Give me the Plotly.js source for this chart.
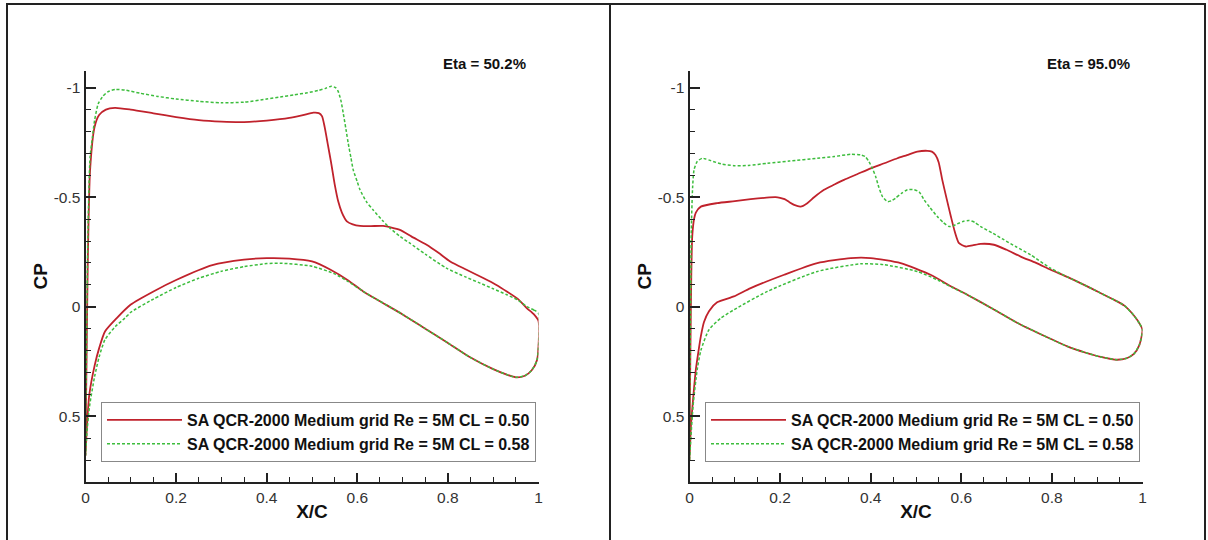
<!DOCTYPE html>
<html>
<head>
<meta charset="utf-8">
<script src="https://cdn.plot.ly/plotly-3.0.1.min.js"></script>
<style>html,body{margin:0;padding:0;background:#fff;}#chart{width:1208px;height:540px;}</style>
</head>
<body>
<div id="chart"></div>
<script>
// ---------- labels ----------
const panelLabels = ['Eta = 50.2%', 'Eta = 95.0%'];
const seriesNames = ['SA QCR-2000 Medium grid Re = 5M CL = 0.50', 'SA QCR-2000 Medium grid Re = 5M CL = 0.58'];
const xTickVals = [0, 0.2, 0.4, 0.6, 0.8, 1];
const xTickText = ['0', '0.2', '0.4', '0.6', '0.8', '1'];
const yTickVals = [-1, -0.5, 0, 0.5];
const yTickText = ['-1', '-0.5', '0', '0.5'];

// ---------- Eta = 50.2%, CL = 0.50 ----------
const eta50_cl050_upper_x  = [0, 0.002, 0.005, 0.01, 0.02, 0.03, 0.045, 0.065, 0.1, 0.15, 0.2, 0.25, 0.3, 0.35, 0.4, 0.45, 0.48, 0.503, 0.515, 0.522, 0.528, 0.535, 0.542, 0.55, 0.558, 0.566, 0.577, 0.59, 0.606, 0.63, 0.657, 0.694, 0.72, 0.753, 0.78, 0.805, 0.84, 0.878, 0.905, 0.93, 0.955, 0.974, 0.99, 1.0];
const eta50_cl050_upper_cp = [0.68, 0.3, -0.2, -0.62, -0.82, -0.875, -0.9, -0.908, -0.9, -0.883, -0.866, -0.852, -0.845, -0.843, -0.85, -0.862, -0.875, -0.886, -0.884, -0.87, -0.82, -0.74, -0.66, -0.56, -0.48, -0.43, -0.39, -0.376, -0.369, -0.368, -0.369, -0.351, -0.32, -0.283, -0.245, -0.207, -0.17, -0.131, -0.102, -0.07, -0.035, 0.006, 0.035, 0.065];
const eta50_cl050_lower_x  = [0, 0.003, 0.0085, 0.02, 0.03, 0.043, 0.069, 0.1, 0.15, 0.2, 0.28, 0.35, 0.4, 0.45, 0.5, 0.54, 0.58, 0.613, 0.65, 0.7, 0.75, 0.8, 0.85, 0.9, 0.93, 0.95, 0.97, 0.985, 0.997, 1.0];
const eta50_cl050_lower_cp = [0.68, 0.55, 0.4, 0.27, 0.19, 0.113, 0.052, -0.01, -0.07, -0.122, -0.19, -0.215, -0.222, -0.22, -0.207, -0.17, -0.12, -0.07, -0.025, 0.035, 0.1, 0.165, 0.232, 0.285, 0.31, 0.322, 0.315, 0.29, 0.242, 0.065];

// ---------- Eta = 50.2%, CL = 0.58 ----------
const eta50_cl058_upper_x  = [0, 0.002, 0.005, 0.01, 0.015, 0.02, 0.028, 0.038, 0.049, 0.066, 0.09, 0.12, 0.16, 0.2, 0.25, 0.3, 0.35, 0.4, 0.43, 0.46, 0.49, 0.515, 0.53, 0.543, 0.552, 0.558, 0.564, 0.569, 0.575, 0.58, 0.586, 0.591, 0.6, 0.606, 0.62, 0.635, 0.655, 0.672, 0.695, 0.716, 0.75, 0.797, 0.84, 0.871, 0.9, 0.93, 0.955, 0.974, 0.99, 1.0];
const eta50_cl058_upper_cp = [0.68, 0.25, -0.3, -0.68, -0.77, -0.85, -0.926, -0.96, -0.981, -0.992, -0.988, -0.975, -0.96, -0.948, -0.938, -0.931, -0.934, -0.948, -0.958, -0.967, -0.977, -0.988, -0.997, -1.007, -1.0, -0.982, -0.94, -0.883, -0.81, -0.746, -0.68, -0.625, -0.57, -0.534, -0.48, -0.442, -0.395, -0.359, -0.32, -0.29, -0.24, -0.176, -0.135, -0.108, -0.082, -0.055, -0.03, -0.001, 0.015, 0.03];
const eta50_cl058_lower_x  = [0, 0.003, 0.0085, 0.02, 0.03, 0.043, 0.066, 0.087, 0.1, 0.15, 0.2, 0.25, 0.3, 0.35, 0.4, 0.43, 0.5, 0.55, 0.58, 0.613, 0.65, 0.7, 0.75, 0.8, 0.85, 0.9, 0.93, 0.95, 0.97, 0.985, 0.997, 1.0];
const eta50_cl058_lower_cp = [0.68, 0.58, 0.46, 0.32, 0.23, 0.15, 0.09, 0.052, 0.025, -0.035, -0.088, -0.13, -0.162, -0.183, -0.197, -0.199, -0.185, -0.15, -0.115, -0.07, -0.025, 0.035, 0.1, 0.165, 0.232, 0.285, 0.31, 0.322, 0.315, 0.29, 0.242, 0.03];

// ---------- Eta = 95.0%, CL = 0.50 ----------
const eta95_cl050_upper_x  = [0, 0.002, 0.004, 0.006, 0.01, 0.014, 0.025, 0.061, 0.1, 0.135, 0.17, 0.19, 0.2, 0.21, 0.22, 0.231, 0.245, 0.26, 0.275, 0.297, 0.32, 0.341, 0.37, 0.4, 0.43, 0.459, 0.48, 0.503, 0.525, 0.535, 0.543, 0.55, 0.558, 0.568, 0.577, 0.586, 0.595, 0.61, 0.625, 0.643, 0.672, 0.7, 0.731, 0.765, 0.797, 0.835, 0.871, 0.905, 0.937, 0.96, 0.981, 0.993, 1.0];
const eta95_cl050_upper_cp = [0.7, 0.2, -0.15, -0.32, -0.4, -0.43, -0.457, -0.473, -0.482, -0.491, -0.498, -0.5, -0.497, -0.491, -0.478, -0.465, -0.457, -0.473, -0.5, -0.534, -0.558, -0.579, -0.605, -0.632, -0.655, -0.678, -0.692, -0.708, -0.712, -0.708, -0.693, -0.66, -0.579, -0.49, -0.412, -0.34, -0.29, -0.275, -0.28, -0.287, -0.283, -0.26, -0.229, -0.2, -0.169, -0.135, -0.1, -0.065, -0.032, -0.005, 0.04, 0.075, 0.105];
const eta95_cl050_lower_x  = [0, 0.003, 0.008, 0.014, 0.02, 0.025, 0.032, 0.043, 0.061, 0.098, 0.135, 0.209, 0.282, 0.356, 0.4, 0.466, 0.532, 0.58, 0.613, 0.67, 0.724, 0.78, 0.834, 0.875, 0.908, 0.944, 0.965, 0.981, 0.993, 1.0];
const eta95_cl050_lower_cp = [0.7, 0.55, 0.42, 0.287, 0.2, 0.135, 0.07, 0.02, -0.02, -0.047, -0.085, -0.146, -0.199, -0.222, -0.222, -0.199, -0.146, -0.09, -0.055, 0.01, 0.074, 0.13, 0.181, 0.21, 0.229, 0.242, 0.235, 0.215, 0.175, 0.105];

// ---------- Eta = 95.0%, CL = 0.58 ----------
const eta95_cl058_upper_x  = [0, 0.002, 0.004, 0.007, 0.01, 0.017, 0.028, 0.035, 0.047, 0.07, 0.098, 0.13, 0.172, 0.22, 0.282, 0.32, 0.356, 0.378, 0.388, 0.396, 0.404, 0.411, 0.418, 0.426, 0.437, 0.446, 0.455, 0.468, 0.481, 0.496, 0.507, 0.518, 0.53, 0.547, 0.56, 0.573, 0.582, 0.591, 0.605, 0.617, 0.63, 0.643, 0.67, 0.694, 0.72, 0.753, 0.797, 0.835, 0.871, 0.905, 0.937, 0.96, 0.981, 0.993, 1.0];
const eta95_cl058_upper_cp = [0.7, 0.1, -0.35, -0.55, -0.625, -0.663, -0.678, -0.675, -0.667, -0.652, -0.644, -0.645, -0.655, -0.665, -0.678, -0.686, -0.696, -0.693, -0.685, -0.663, -0.63, -0.594, -0.545, -0.503, -0.48, -0.484, -0.496, -0.518, -0.534, -0.534, -0.524, -0.488, -0.455, -0.412, -0.385, -0.366, -0.37, -0.378, -0.39, -0.394, -0.385, -0.366, -0.335, -0.306, -0.275, -0.237, -0.176, -0.135, -0.1, -0.065, -0.032, -0.005, 0.04, 0.075, 0.105];
const eta95_cl058_lower_x  = [0, 0.003, 0.008, 0.017, 0.025, 0.043, 0.069, 0.098, 0.172, 0.282, 0.378, 0.429, 0.503, 0.55, 0.58, 0.613, 0.67, 0.724, 0.78, 0.834, 0.875, 0.908, 0.944, 0.965, 0.981, 0.993, 1.0];
const eta95_cl058_lower_cp = [0.7, 0.6, 0.45, 0.287, 0.2, 0.105, 0.052, 0.014, -0.07, -0.161, -0.196, -0.192, -0.161, -0.12, -0.088, -0.055, 0.01, 0.074, 0.13, 0.181, 0.21, 0.229, 0.242, 0.235, 0.215, 0.175, 0.105];

// ---------- styles ----------
const redColor = '#c0222c';
const greenColor = '#3dbd3d';
const FONT = 'Liberation Sans, Arial, sans-serif';

function loop(ux, ucp, lx, lcp) {
  const x = ux.slice().reverse().concat(lx.slice(1));
  const y = ucp.slice().reverse().concat(lcp.slice(1));
  return {x: x, y: y};
}

const panels = [
  {xa: 'x', ya: 'y', lg: 'legend',
   red: loop(eta50_cl050_upper_x, eta50_cl050_upper_cp, eta50_cl050_lower_x, eta50_cl050_lower_cp),
   green: loop(eta50_cl058_upper_x, eta50_cl058_upper_cp, eta50_cl058_lower_x, eta50_cl058_lower_cp)},
  {xa: 'x2', ya: 'y2', lg: 'legend2',
   red: loop(eta95_cl050_upper_x, eta95_cl050_upper_cp, eta95_cl050_lower_x, eta95_cl050_lower_cp),
   green: loop(eta95_cl058_upper_x, eta95_cl058_upper_cp, eta95_cl058_lower_x, eta95_cl058_lower_cp)}
];

const traces = [];
panels.forEach(p => {
  traces.push({type: 'scatter', mode: 'lines', x: p.red.x, y: p.red.y, xaxis: p.xa, yaxis: p.ya, legend: p.lg,
    name: seriesNames[0], line: {color: redColor, width: 1.8, shape: 'spline', smoothing: 0.6}, hoverinfo: 'x+y'});
  traces.push({type: 'scatter', mode: 'lines', x: p.green.x, y: p.green.y, xaxis: p.xa, yaxis: p.ya, legend: p.lg,
    name: seriesNames[1], line: {color: greenColor, width: 1.5, dash: '3px,2px', shape: 'spline', smoothing: 0.6}, hoverinfo: 'x+y'});
});

const W = 1208, H = 540;
function xDom(offset) { return [(85.5 + offset) / W, (538.5 + offset) / W]; }
const yDom = [(H - 482) / H, (H - 70.6) / H];

function xAxis(offset, anchor) {
  return {
    domain: xDom(offset), anchor: anchor, range: [0, 1],
    tickmode: 'array', tickvals: xTickVals, ticktext: xTickText,
    ticks: 'inside', ticklen: 9, tickwidth: 2, tickcolor: '#222',
    minor: {tickmode: 'linear', tick0: 0, dtick: 0.05, ticks: 'inside', ticklen: 5, tickwidth: 1, tickcolor: '#222', showgrid: false},
    showline: true, linewidth: 2, linecolor: '#222', showgrid: false, zeroline: false,
    tickfont: {family: FONT, size: 15.5, color: '#333'},
    title: {text: 'X/C', font: {family: FONT, size: 19, weight: 'bold', color: '#111'}, standoff: 0}
  };
}
function yAxis(anchor) {
  return {
    domain: yDom, anchor: anchor, range: [0.8, -1.078],
    tickmode: 'array', tickvals: yTickVals, ticktext: yTickText,
    ticks: 'inside', ticklen: 10, tickwidth: 2, tickcolor: '#222',
    minor: {tickmode: 'linear', tick0: 0, dtick: 0.1, ticks: 'inside', ticklen: 5, tickwidth: 1, tickcolor: '#222', showgrid: false},
    showline: true, linewidth: 2, linecolor: '#222', showgrid: false, zeroline: false,
    tickfont: {family: FONT, size: 15.5, color: '#333'},
    title: {text: 'CP', font: {family: FONT, size: 19, weight: 'bold', color: '#111'}, standoff: 1}
  };
}
function legendCfg(offset) {
  return {
    x: (101 + offset) / W, xanchor: 'left', y: (H - 402) / H, yanchor: 'top',
    bgcolor: '#fff', bordercolor: '#888', borderwidth: 1,
    font: {family: FONT, size: 16, weight: 'bold', color: '#111'},
    itemwidth: 75, tracegroupgap: 0
  };
}

const layout = {
  width: W, height: H,
  margin: {l: 0, r: 0, t: 0, b: 0},
  paper_bgcolor: '#fff', plot_bgcolor: '#fff',
  showlegend: true,
  xaxis: xAxis(0, 'y'), yaxis: yAxis('x'),
  xaxis2: xAxis(604, 'y2'), yaxis2: yAxis('x2'),
  legend: legendCfg(0), legend2: legendCfg(604),
  annotations: panelLabels.map((t, i) => ({
    text: t, xref: 'paper', yref: 'paper', x: (484 + 604 * i) / W, y: (H - 64) / H,
    xanchor: 'center', yanchor: 'middle', showarrow: false,
    font: {family: FONT, size: 15, weight: 'bold', color: '#111'}
  })),
  shapes: [
    {type: 'rect', xref: 'paper', yref: 'paper', x0: 7 / W, x1: 610 / W, y0: -0.2, y1: (H - 4) / H, line: {color: '#222', width: 2}},
    {type: 'rect', xref: 'paper', yref: 'paper', x0: 610 / W, x1: 1205 / W, y0: -0.2, y1: (H - 4) / H, line: {color: '#222', width: 2}}
  ]
};

Plotly.newPlot('chart', traces, layout, {displayModeBar: false});
</script>
</body>
</html>
